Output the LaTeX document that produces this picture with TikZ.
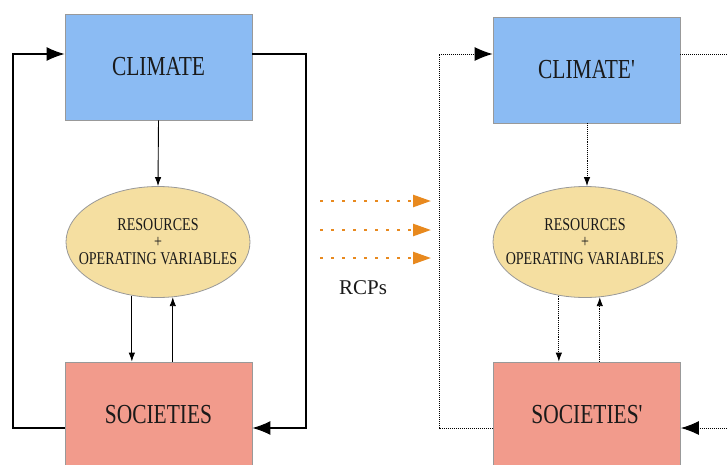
\documentclass[tikz,border=0pt]{standalone}
\usepackage{fontspec}
\setmainfont{Liberation Serif}
\newfontfamily\labfont[FakeStretch=0.78]{Liberation Serif}
\usetikzlibrary{arrows.meta,shapes.geometric}
\definecolor{climblue}{HTML}{8BBBF3}
\definecolor{ressand}{HTML}{F5DFA1}
\definecolor{socred}{HTML}{F29B8C}
\definecolor{rcporange}{HTML}{E8891E}
\definecolor{edgegray}{HTML}{999999}
\definecolor{txt}{HTML}{1A1A1A}
\tikzset{
  boxnode/.style={draw=edgegray, line width=0.8pt, rectangle, minimum width=187pt, minimum height=106pt, inner sep=0pt, text=txt, font=\labfont\fontsize{27.5}{30}\selectfont},
  resnode/.style={draw=edgegray, line width=0.8pt, ellipse, minimum width=184pt, minimum height=111pt, inner sep=0pt},
  restext/.style={inner sep=0pt, text=txt, align=center, font=\labfont\fontsize{18}{17}\selectfont},
  loopline/.style={line width=1.2pt, -{Latex[length=18pt,width=14pt]}},
  vline/.style={line width=0.9pt, -{Latex[length=9pt,width=6.5pt]}},
  dotloop/.style={line width=1pt, densely dotted, -{Latex[length=18pt,width=14pt]}},
  dotplain/.style={line width=1pt, densely dotted},
  dotv/.style={line width=0.9pt, densely dotted, -{Latex[length=9pt,width=6.5pt]}},
  rcparrow/.style={rcporange, line width=2.5pt, dash pattern=on 2.5pt off 8.5pt, -{Triangle[length=18pt,width=12pt]}}
}
\begin{document}
\begin{tikzpicture}[x=1pt,y=-1pt]
\useasboundingbox (0,0) rectangle (728,464);
\clip (0,0) rectangle (728,464);
% left column
\node[boxnode, fill=climblue] (climL) at (158.5,67) {CLIMATE};
\node[resnode, fill=ressand] (resL) at (158,242) {};
\node[restext] (resLt) at (resL.center) {RESOURCES\\+\\OPERATING VARIABLES};
\node[boxnode, fill=socred] (socL) at (158.5,415) {SOCIETIES};
\coordinate (lA) at (13,428);
\coordinate (lB) at (13,54);
\coordinate (lC) at (306,54);
\coordinate (lD) at (306,428);
\draw[loopline] (socL.west |- lA) -- (lA) -- (lB) -- (climL.west |- lB);
\draw[loopline] (climL.east |- lC) -- (lC) -- (lD) -- (socL.east |- lD);
\draw[vline] (climL.south) -- (resL.north);
\draw[vline] (resL.244) -- (resL.244 |- socL.north);
\draw[vline] (resL.285 |- socL.north) -- (resL.285);
% right column
\node[boxnode, fill=climblue] (climR) at (586.5,70) {CLIMATE'};
\node[resnode, fill=ressand] (resR) at (585,242) {};
\node[restext] (resRt) at (resR.center) {RESOURCES\\+\\OPERATING VARIABLES};
\node[boxnode, fill=socred] (socR) at (587,415) {SOCIETIES'};
\coordinate (rA) at (439,428);
\coordinate (rB) at (439,54);
\coordinate (rC) at (729,54);
\coordinate (rD) at (729,428);
\draw[dotloop] (socR.west |- rA) -- (rA) -- (rB) -- (climR.west |- rB);
\draw[dotplain] (climR.east |- rC) -- (rC);
\draw[dotloop] (rD) -- (socR.east |- rD);
\draw[dotv] (climR.south -| 587,0) -- (resR.north -| 587,0);
\draw[dotv] (resR.244) -- (resR.244 |- socR.north);
\draw[dotv] (resR.285 |- socR.north) -- (resR.285);
% RCP arrows
\coordinate (o1s) at (320,201); \coordinate (o1e) at (431,201);
\coordinate (o2s) at (320,230); \coordinate (o2e) at (431,230);
\coordinate (o3s) at (320,258); \coordinate (o3e) at (431,258);
\draw[rcparrow] (o1s) -- (o1e);
\draw[rcparrow] (o2s) -- (o2e);
\draw[rcparrow] (o3s) -- (o3e);
\node[font=\fontsize{21}{22}\selectfont, text=txt] (rcp) at (363,288) {RCPs};
\end{tikzpicture}
\end{document}
